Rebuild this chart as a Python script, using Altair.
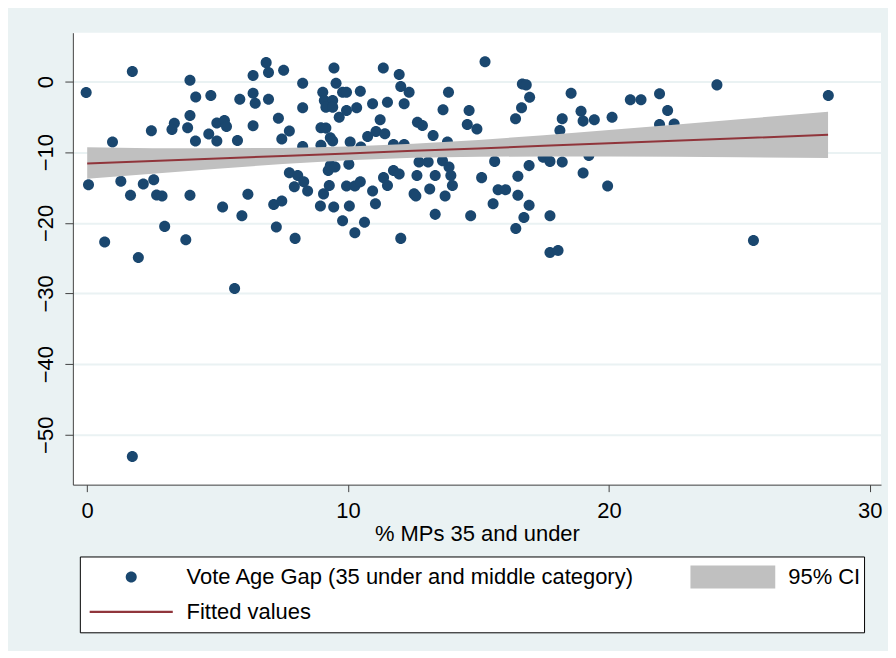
import altair as alt
import pandas as pd

# ---- data ----
PCT_MPS = [-0.04, 1.73, 3.94, 4.16, 4.74, 3.94, 3.34, 3.25, 3.85, 2.46, 0.97, 4.15, 4.66,
           0.05, 1.29, 1.66, 2.15, 2.55, 2.66, 2.87, 3.94, 2.97, 0.67, 3.78, 1.96, 1.73, 5.65,
           6.86, 6.95, 7.53, 6.36, 5.85, 6.36, 6.44, 6.95, 8.26, 9.46, 9.54, 8.26, 7.33, 6.36,
           4.97, 5.26, 5.34, 4.97, 5.76, 7.75, 7.46, 8.26, 8.96, 9.15, 9.32, 8.96, 9.41, 9.03,
           9.09, 9.41, 9.15, 9.41, 9.66, 9.79, 7.75, 8.07, 7.94, 8.30, 8.45, 9.32, 9.24, 9.28,
           9.06, 8.94, 9.45, 9.79, 6.16, 5.19, 5.93, 7.15, 7.46, 7.25, 7.97,
           11.35, 11.96, 12.02, 12.34, 9.94, 10.47, 10.94, 11.51, 12.15, 13.85, 9.94, 10.33,
           11.23, 12.66, 12.85, 13.64, 14.57, 14.64, 13.26, 10.75, 11.07, 11.41, 10.08, 10.49,
           11.74, 12.15, 13.81, 10.03, 12.72, 13.07, 13.62, 13.87, 13.94, 14.00, 9.50, 11.36,
           11.51, 11.74, 11.96, 12.64, 13.34, 13.13, 13.72, 12.53, 12.60, 9.94, 10.26, 10.47,
           10.94, 10.05, 11.05, 10.63, 10.26, 12.02, 13.34, 14.70,
           15.25, 16.68, 16.83, 16.96, 18.55, 14.94, 16.65, 16.42, 18.21, 18.93, 19.01, 19.44,
           18.12, 17.48, 17.74, 18.21, 19.23, 15.62, 15.12, 16.94, 16.51, 19.01, 19.95, 15.75,
           16.04, 16.51, 15.56, 16.94, 16.74, 17.74, 16.43, 17.74, 18.05,
           24.14, 20.82, 21.23, 21.94, 22.25, 20.12, 21.94, 22.50, 28.41, 25.54]
AGE_GAP = [-1.55, 1.41, 0.19, -2.17, -1.98, -4.80, -5.89, -6.78, -6.54, -6.97, -8.57, -8.43, -7.42,
           -14.6, -14.1, -16.1, -14.5, -13.9, -16.05, -16.2, -16.1, -20.5, -22.7, -22.4, -24.9, -53.07, -29.3,
           2.68, 1.27, 1.60, 0.85, -2.49, -1.65, -3.06, -2.49, -0.24, 1.93, -0.24, -3.72, -5.18, -6.26,
           -5.88, -5.50, -6.36, -8.43, -8.33, -7.01, -8.14, -9.18, -6.54, -6.59, -7.96, -9.00, -8.43, -1.51,
           -2.68, -2.68, -3.62, -3.62, -5.04, -1.51, -12.9, -13.3, -14.9, -14.2, -15.5, -11.9, -12.6, -14.7,
           -15.9, -17.6, -17.75, -19.7, -15.96, -17.75, -19.0, -17.4, -16.9, -20.6, -22.2,
           1.93, 0.99, -0.71, -1.51, -1.51, -1.37, -3.15, -2.92, -3.15, -1.51, -4.10, -3.72,
           -5.41, -5.75, -6.21, -4.00, -6.07, -4.10, -7.63, -7.77, -7.06, -7.39, -8.57, -9.28,
           -8.90, -8.90, -8.57, -11.7, -11.4, -11.4, -11.2, -12.1, -13.3, -14.7, -12.1, -13.6,
           -14.7, -12.6, -13.1, -13.3, -13.3, -15.2, -16.2, -15.9, -16.2, -14.8, -14.8, -14.2,
           -15.5, -17.6, -17.3, -19.9, -21.4, -22.2, -18.8, -19.0,
           2.82, -0.33, -0.47, -2.21, -1.65, -6.73, -3.72, -5.27, -5.27, -4.19, -5.60, -5.41,
           -6.92, -10.7, -11.3, -11.4, -10.45, -11.3, -13.6, -11.9, -13.4, -12.95, -14.8, -15.3,
           -15.3, -16.1, -17.3, -17.5, -19.25, -19.0, -20.8, -24.2, -23.9,
           -0.47, -2.59, -2.59, -1.74, -4.10, -5.04, -6.07, -6.00, -1.98, -22.5]

BAND_X = [0.0, 2.5, 5.0, 7.5, 10.0, 12.5, 15.0, 17.5, 20.0, 22.5, 25.0, 28.4]
FITTED = [-11.60, -11.24, -10.89, -10.53, -10.17, -9.81, -9.46, -9.10, -8.74, -8.38, -8.03, -7.54]
CI_LOW = [-13.75, -13.04, -12.33, -11.67, -11.14, -10.80, -10.65, -10.60, -10.62, -10.65, -10.72, -10.81]
CI_HIGH = [-9.30, -9.44, -9.45, -9.39, -9.20, -8.82, -8.27, -7.60, -6.86, -6.11, -5.34, -4.27]

X_TICKS = [0, 10, 20, 30]
Y_TICKS = [0, -10, -20, -30, -40, -50]

S_PTS = "Vote Age Gap (35 under and middle category)"
S_CI = "95% CI"
S_FIT = "Fitted values"
SERIES = [S_PTS, S_CI, S_FIT]
COLORS = ["#1a476f", "#c0c0c0", "#90353b"]

FONT = "Liberation Sans, Arial, sans-serif"
FS = 22

pts = pd.DataFrame({"x": PCT_MPS, "y": AGE_GAP, "series": S_PTS})
band = pd.DataFrame({"x": BAND_X, "lo": CI_LOW, "hi": CI_HIGH, "series": S_CI})
fit = pd.DataFrame({"x": BAND_X, "fit": FITTED, "series": S_FIT})

CIRCLE = "M0.13,0A0.13,0.13,0,1,1,-0.13,0A0.13,0.13,0,1,1,0.13,0Z"
RECT = "M-1,-0.27H1V0.27H-1Z"
THIN = "M-0.98,-0.028H0.98V0.028H-0.98Z"

xscale = alt.Scale(domain=[-0.55, 30.43], nice=False, zero=False)
yscale = alt.Scale(domain=[-57.06, 6.92], nice=False, zero=False)

legend = alt.Legend(
    title=None, orient="none", legendX=7, legendY=525, columns=2,
    direction="horizontal",
    labelFont=FONT, labelFontSize=FS, labelColor="black", labelLimit=1000,
    symbolSize=7225, symbolStrokeWidth=0, symbolOpacity=1,
    symbolOffset=6, labelOffset=13, clipHeight=35, rowPadding=0,
    columnPadding=50, padding=3, strokeColor="black", fillColor="white",
)
color = alt.Color("series:N", scale=alt.Scale(domain=SERIES, range=COLORS), legend=legend)
shape = alt.Shape("series:N", scale=alt.Scale(domain=SERIES, range=[CIRCLE, RECT, THIN]), legend=legend)

xaxis = alt.Axis(values=X_TICKS, title="% MPs 35 and under", grid=False,
                 tickSize=7, labelPadding=9, titlePadding=2)
yaxis = alt.Axis(values=Y_TICKS, title=None, grid=True, labelAngle=270,
                 labelAlign="center", labelBaseline="bottom",
                 tickSize=8, labelPadding=7)

points = alt.Chart(pts).mark_point(filled=True, opacity=1, size=7225, strokeWidth=0).encode(
    x=alt.X("x:Q", scale=xscale, axis=xaxis),
    y=alt.Y("y:Q", scale=yscale, axis=yaxis),
    color=color,
    shape=shape,
)
area = alt.Chart(band).mark_area(opacity=1).encode(
    x=alt.X("x:Q", scale=xscale),
    y=alt.Y("lo:Q", scale=yscale),
    y2="hi:Q",
    color=color,
)
line = alt.Chart(fit).mark_line(strokeWidth=2).encode(
    x=alt.X("x:Q", scale=xscale),
    y=alt.Y("fit:Q", scale=yscale),
    color=color,
)

chart = alt.layer(points, area, line).properties(
    width=810, height=453,
    autosize=alt.AutoSizeParams(type="none"),
    padding={"left": 65, "top": 24, "right": 7, "bottom": 166},
    background="#EAF2F3",
).configure_view(
    stroke=None, fill="white"
).configure_axis(
    labelFont=FONT, labelFontSize=FS, labelColor="black",
    titleFont=FONT, titleFontSize=FS, titleColor="black", titleFontWeight="normal",
    domainColor="#404040", tickColor="#404040", domainWidth=1, tickWidth=1,
    gridColor="#EAF2F3", gridWidth=2,
)

chart.save("out.html", embed_options={"renderer": "svg", "actions": False})
